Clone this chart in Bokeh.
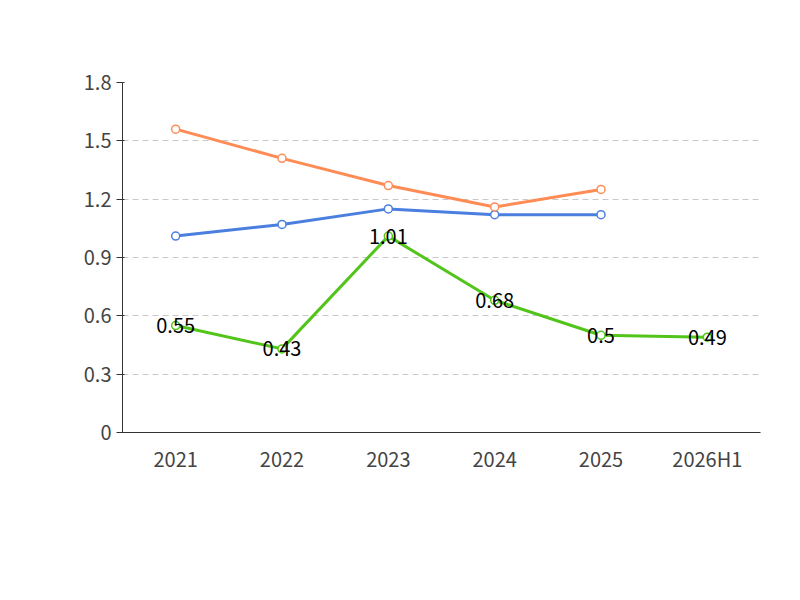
from bokeh.plotting import figure
from bokeh.models import ColumnDataSource, Legend, LegendItem, Label, FixedTicker
from bokeh.core.properties import value
from bokeh.embed import file_html
from bokeh.resources import INLINE

years = ["2021", "2022", "2023", "2024", "2025", "2026H1"]
ratio = [0.55, 0.43, 1.01, 0.68, 0.5, 0.49]
ind_mean = [1.01, 1.07, 1.15, 1.12, 1.12]
ind_median = [1.56, 1.41, 1.27, 1.16, 1.25]
yticks = [0, 0.3, 0.6, 0.9, 1.2, 1.5, 1.8]
ytick_labels = ["0", "0.3", "0.6", "0.9", "1.2", "1.5", "1.8"]

FONT = "Noto Sans CJK SC"
green, blue, orange = "#52c41a", "#4a7fe0", "#ff8c55"

p = figure(frame_width=638, frame_height=350, x_range=years, y_range=(0, 1.8),
           output_backend="svg", toolbar_location=None,
           min_border_left=122, min_border_right=24, min_border_top=82, min_border_bottom=160)
p.outline_line_color = None
p.xgrid.grid_line_color = None
p.ygrid.grid_line_dash = "6 4"
p.ygrid.grid_line_color = "#c8c8c8"
p.yaxis.ticker = FixedTicker(ticks=yticks)
p.yaxis.major_label_overrides = {t: l for t, l in zip(yticks, ytick_labels)}
for ax in (p.xaxis, p.yaxis):
    ax.major_label_text_font = FONT
    ax.major_label_text_font_size = "20px"
    ax.major_label_text_color = "#444444"
    ax.axis_line_color = "#333333"
    ax.major_tick_line_color = "#333333"
    ax.minor_tick_line_color = None
p.xaxis.major_tick_line_color = None

src_r = ColumnDataSource(dict(x=years, y=ratio, t=[str(v) for v in ratio]))
src_m = ColumnDataSource(dict(x=years[:5], y=ind_mean))
src_d = ColumnDataSource(dict(x=years[:5], y=ind_median))

items = []
for src, c, name in [(src_r, green, "流动比率"), (src_m, blue, "行业均值"), (src_d, orange, "行业中位数")]:
    l = p.line("x", "y", source=src, line_color=c, line_width=3)
    s = p.scatter("x", "y", source=src, size=8, fill_color="white", line_color=c, line_width=1.5)
    items.append(LegendItem(label=name, renderers=[l, s]))

p.text("x", "y", text="t", source=src_r, text_align="center", text_baseline="middle",
       text_font=value(FONT), text_font_size="20px", text_color="black")

legend = Legend(items=items, orientation="horizontal", label_text_font=FONT,
                label_text_font_size="20px", label_text_color="#444444",
                border_line_color=None, background_fill_alpha=0, glyph_width=50, spacing=20,
                margin=0, padding=0, location=(3, -112))
p.add_layout(legend)

p.add_layout(Label(x=270, y=414, x_units="screen", y_units="screen", text="历年流动比率变化情况",
                   text_align="center", text_baseline="middle", text_font=FONT,
                   text_font_size="26px", text_font_style="bold", text_color="#333333"))
p.add_layout(Label(x=270, y=-150, x_units="screen", y_units="screen", text="制图数据来自恒生聚源数据库",
                   text_align="center", text_baseline="middle", text_font=FONT,
                   text_font_size="16px", text_color="#c8961e"))

open("out.html", "w").write(file_html(p, INLINE))
